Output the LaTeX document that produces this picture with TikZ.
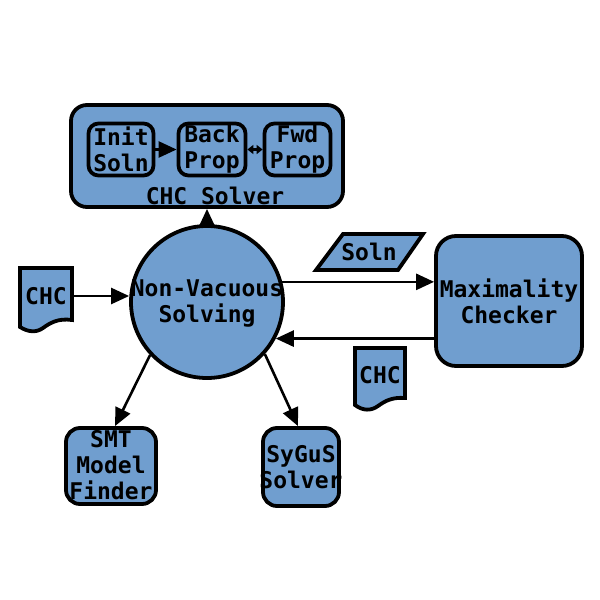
\documentclass[tikz,border=0pt]{standalone}
\usepackage{fontspec}
\newfontfamily\dmono{DejaVu Sans Mono}
\usetikzlibrary{arrows.meta,calc}
\definecolor{boxblue}{RGB}{112,158,207}
\tikzset{
  every node/.style={font=\dmono\bfseries\fontsize{11.5}{13}\selectfont, align=center, inner sep=0pt},
  blk/.style={draw, line width=1.9pt, fill=boxblue, rounded corners=#1},
  blk/.default=7pt,
  shp/.style={draw, line width=1.9pt, fill=boxblue},
  arr/.style={line width=1.3pt, -{Triangle[length=9pt,width=8pt]}},
  sarr/.style={line width=1.3pt, {Triangle[length=3pt,width=4.5pt]}-{Triangle[length=3pt,width=4.5pt]}},
}
\begin{document}
\begin{tikzpicture}[x=0.5pt,y=-0.5pt]
\useasboundingbox (0,0) rectangle (600,600);
% CHC Solver
\node[blk=8pt, minimum width=136pt, minimum height=51pt] (solver) at (207,156) {};
\node (solverlbl) at (215,196) {CHC Solver};
\node[blk=5pt, minimum width=32.5pt, minimum height=26pt] (init) at (121,149.5) {Init\\Soln};
\node[blk=5pt, minimum width=33.5pt, minimum height=26pt] (back) at (212,149.5) {Back\\Prop};
\node[blk=5pt, minimum width=33pt, minimum height=26pt] (fwd) at (297.5,149.5) {Fwd\\Prop};
\draw[arr] (init) -- (back);
\draw[sarr] (back) -- (fwd);
% circle
\node[shp, circle, minimum size=76pt] (nv) at (207,302) {};
\node (nvlbl) at (207,303) {Non-Vacuous\\Solving};
\draw[arr] (nv.north) -- (solver.south);
% left CHC doc
\draw[shp] (20,268) -- (72,268) -- (72,320) .. controls (58,318) and (50,323) .. (43,328) .. controls (36,333) and (28,332) .. (20,327) -- cycle;
\node (chcin) at (46,296) [minimum width=26pt, minimum height=26pt] {CHC};
\draw[arr] (chcin.east) -- (nv.west |- chcin.east);
% Maximality checker
\node[blk=10pt, minimum width=73pt, minimum height=65pt] (mc) at (509,301) {Maximality\\Checker};
% Soln parallelogram
\draw[shp] (343,234) -- (423,234) -- (398,270) -- (316,270) -- cycle;
\node (soln) at (369,252) {Soln};
\draw[arr] (nv.15) -- (nv.15 -| mc.west);
\draw[arr] (mc.west |- nv.-28) -- (nv.-28);
% right CHC doc
\draw[shp] (355,348) -- (405,348) -- (405,398) .. controls (392,397) and (385,401) .. (378,406) .. controls (371,411) and (363,411) .. (355,405) -- cycle;
\node (chcout) at (380,375) {CHC};
% bottom boxes
\node[blk=7pt, minimum width=45pt, minimum height=38pt] (smt) at (111,466) {};
\node (smtlbl) at (111,465) {SMT\\Model\\Finder};
\node[blk=7pt, minimum width=38pt, minimum height=39pt] (sygus) at (301,467) {};
\node (syguslbl) at (301,467) {SyGuS\\Solver};
\draw[arr] (nv.223) -- ($(smt.north)+(4,0)$);
\draw[arr] (nv.318) -- ($(sygus.north)+(-3,0)$);
\end{tikzpicture}
\end{document}
